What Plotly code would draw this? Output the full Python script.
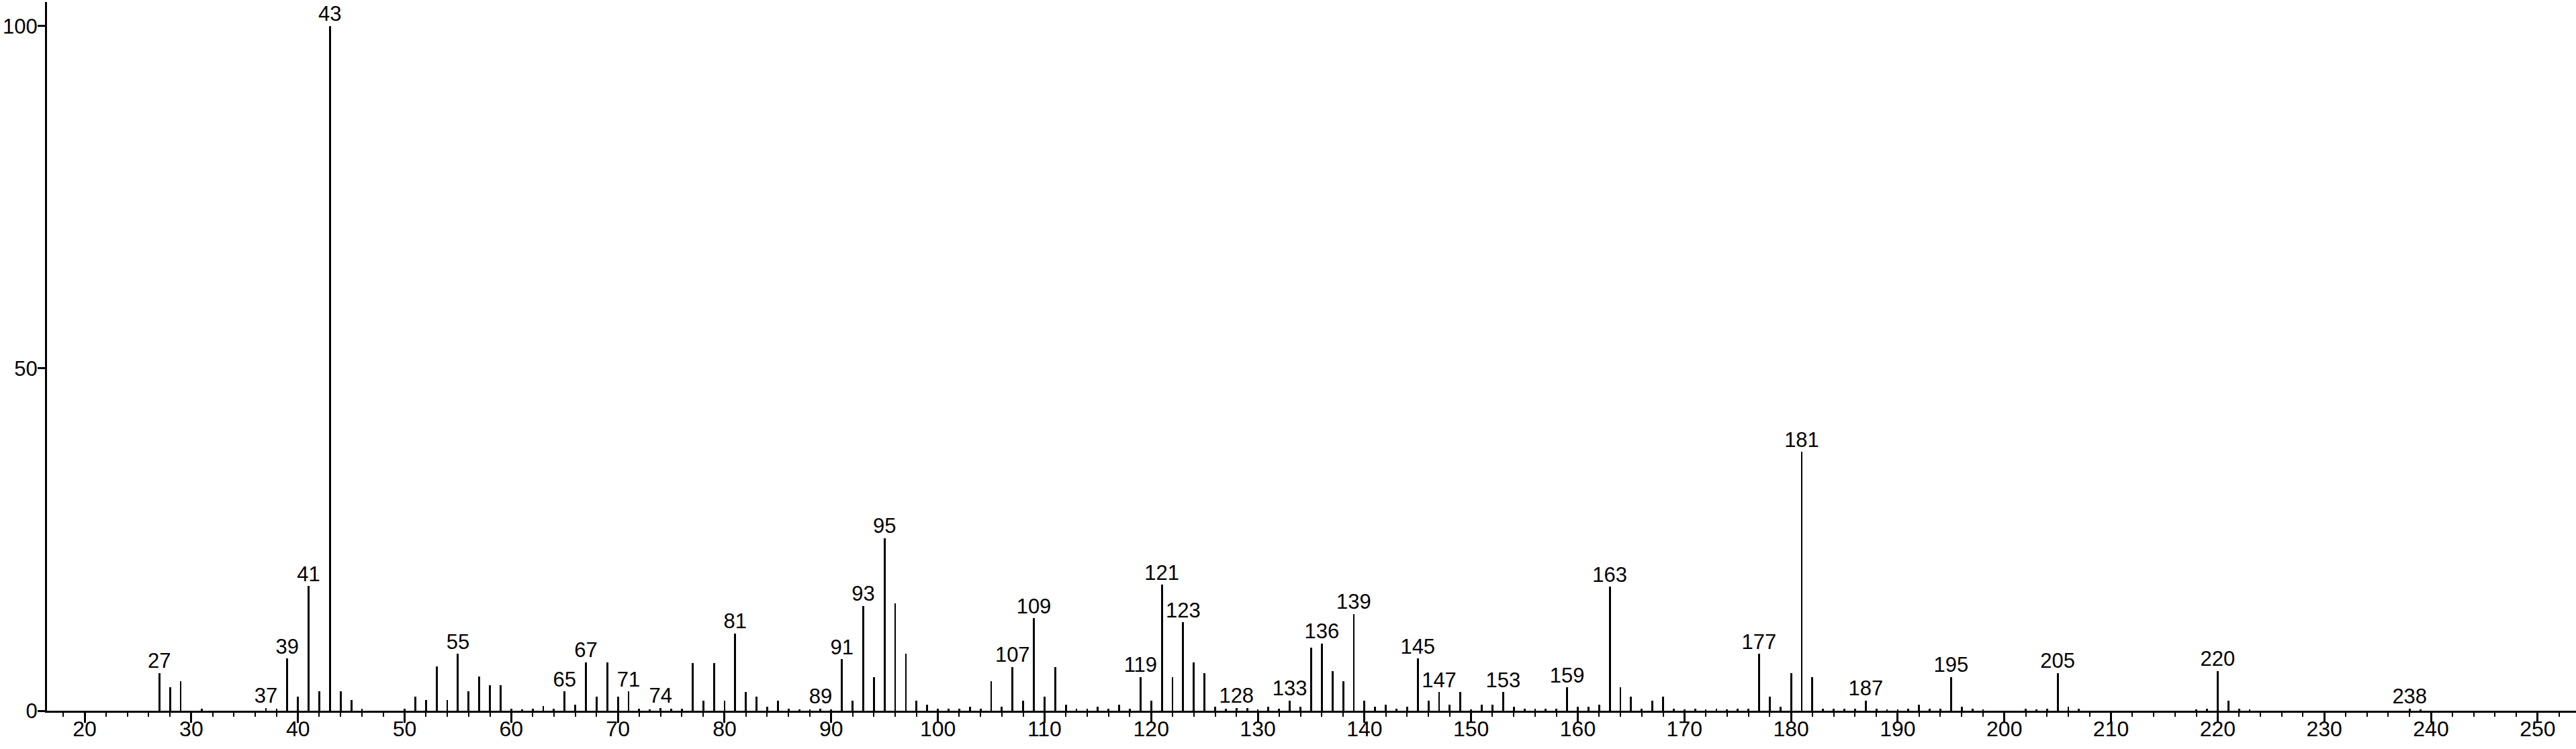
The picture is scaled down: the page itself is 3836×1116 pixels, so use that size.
import plotly.graph_objects as go

mz = [27, 28, 29, 31, 37, 38, 39, 40, 41, 42, 43, 44, 45, 46, 50, 51, 52, 53, 54, 55,
      56, 57, 58, 59, 60, 61, 62, 63, 64, 65, 66, 67, 68, 69, 70, 71, 72, 73, 74, 75,
      76, 77, 78, 79, 80, 81, 82, 83, 84, 85, 86, 87, 88, 89, 90, 91, 92, 93, 94, 95,
      96, 97, 98, 99, 100, 101, 102, 103, 104, 105, 106, 107, 108, 109, 110, 111, 112,
      113, 114, 115, 116, 117, 118, 119, 120, 121, 122, 123, 124, 125, 126, 127, 128,
      129, 130, 131, 132, 133, 134, 135, 136, 137, 138, 139, 140, 141, 142, 143, 144,
      145, 146, 147, 148, 149, 150, 151, 152, 153, 154, 155, 156, 157, 158, 159, 160,
      161, 162, 163, 164, 165, 166, 167, 168, 169, 170, 171, 172, 173, 174, 175, 176,
      177, 178, 179, 180, 181, 182, 183, 184, 185, 186, 187, 188, 189, 190, 191, 192,
      193, 194, 195, 196, 197, 198, 202, 203, 204, 205, 206, 207, 218, 219, 220, 221,
      222, 223, 238, 239]
intensity = [5.5, 3.4, 4.3, 0.3, 0.4, 0.3, 7.6, 2.1, 18.2, 2.8, 100, 2.8, 1.6, 0.3, 0.3, 2.1, 1.6, 6.5, 1.6, 8.3,
             2.8, 5.0, 3.7, 3.7, 0.3, 0.2, 0.3, 0.7, 0.3, 2.8, 0.9, 7.1, 2.1, 7.1, 2.1, 2.8, 0.3, 0.2, 0.4, 0.3,
             0.3, 7.0, 1.5, 7.0, 1.5, 11.3, 2.7, 2.1, 0.6, 1.5, 0.3, 0.2, 0.2, 0.3, 0.2, 7.5, 1.5, 15.3, 4.9, 25.2,
             15.7, 8.3, 1.5, 0.9, 0.3, 0.3, 0.3, 0.6, 0.3, 4.3, 0.6, 6.4, 1.5, 13.5, 2.1, 6.4, 0.9,
             0.3, 0.3, 0.6, 0.3, 0.9, 0.3, 4.9, 1.5, 18.4, 4.9, 12.9, 7.1, 5.5, 0.6, 0.3, 0.4,
             0.4, 0.2, 0.6, 0.3, 1.5, 0.6, 9.2, 9.8, 5.8, 4.3, 14.1, 1.5, 0.6, 0.9, 0.3, 0.6,
             7.6, 1.5, 2.7, 0.9, 2.7, 0.2, 0.9, 0.9, 2.7, 0.6, 0.3, 0.3, 0.3, 0.3, 3.4, 0.6,
             0.6, 0.9, 18.1, 3.4, 2.1, 0.3, 1.5, 2.1, 0.3, 0.2, 0.3, 0.2, 0.3, 0.2, 0.3, 0.3,
             8.3, 2.1, 0.6, 5.5, 37.8, 4.9, 0.3, 0.3, 0.3, 0.3, 1.5, 0.3, 0.2, 0.2, 0.3, 0.9,
             0.3, 0.3, 4.9, 0.6, 0.3, 0.2, 0.3, 0.2, 0.3, 5.5, 0.6, 0.3, 0.2, 0.3, 5.8, 1.5,
             0.3, 0.2, 0.3, 0.2]

labeled_mz = [27, 37, 39, 41, 43, 55, 65, 67, 71, 74, 81, 89, 91, 93, 95, 107, 109, 119,
              121, 123, 128, 133, 136, 139, 145, 147, 153, 159, 163, 177, 181, 187, 195,
              205, 220, 238]

x_ticks = list(range(20, 251, 10))
y_ticks = [0, 50, 100]

lookup = dict(zip(mz, intensity))
label_y = [lookup[m] for m in labeled_mz]
label_text = [str(m) for m in labeled_mz]

FONT = "Liberation Sans, Arial, sans-serif"

fig = go.Figure()
fig.add_trace(go.Bar(
    x=mz, y=intensity, width=0.18,
    marker=dict(color="black", line=dict(width=0)),
    hoverinfo="x+y", showlegend=False,
))
fig.add_trace(go.Scatter(
    x=labeled_mz, y=label_y, mode="text", text=label_text,
    textposition="top center",
    textfont=dict(family=FONT, size=31, color="black"),
    cliponaxis=False, showlegend=False, hoverinfo="skip",
))

fig.update_layout(
    width=3836, height=1116,
    margin=dict(l=70, r=0, t=3, b=57, autoexpand=False),
    paper_bgcolor="white", plot_bgcolor="white",
    bargap=0,
    font=dict(family=FONT, size=32, color="black"),
)
fig.update_xaxes(
    range=[16.47, 253.6], automargin=False,
    tickmode="array", tickvals=x_ticks,
    ticks="outside", ticklen=15, tickwidth=3, tickcolor="black",
    ticklabelstandoff=-18,
    showline=True, linewidth=3, linecolor="black",
    showgrid=False, zeroline=False,
    tickfont=dict(family=FONT, size=32, color="black"),
    minor=dict(tick0=0, dtick=2, ticks="outside", ticklen=6, tickwidth=2,
               tickcolor="black", showgrid=False),
)
fig.update_yaxes(
    range=[0, 103.5], automargin=False,
    tickmode="array", tickvals=y_ticks,
    ticks="outside", ticklen=11, tickwidth=3, tickcolor="black",
    ticklabelstandoff=-6,
    showline=True, linewidth=3, linecolor="black",
    showgrid=False, zeroline=False,
    tickfont=dict(family=FONT, size=31, color="black"),
)

fig.write_html(
    "out.html",
    config={"displayModeBar": False},
    post_script="document.body.style.margin='0';document.body.style.overflow='hidden';",
)
